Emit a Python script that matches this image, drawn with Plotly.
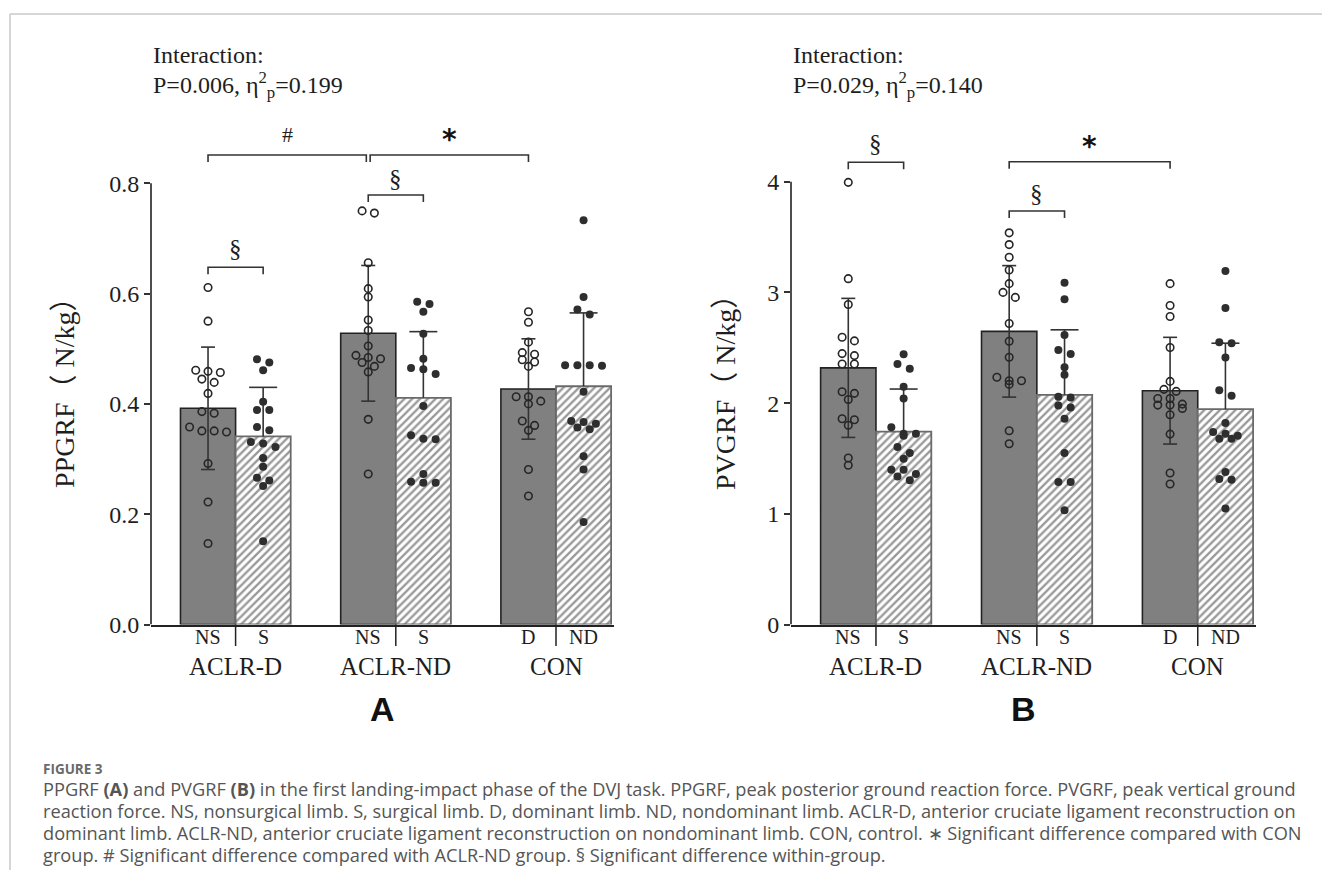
import numpy as np
import plotly.graph_objects as go

# ---------------- data ----------------
GROUPS = ["ACLR-D", "ACLR-ND", "CON"]
LIMB_LEFT = ["NS", "NS", "D"]      # dark bars (open circles)
LIMB_RIGHT = ["S", "S", "ND"]      # hatched bars (filled dots)

# Panel A: PPGRF (N/kg)
A_ACLRD_NS = [0.611, 0.550, 0.461, 0.459, 0.457, 0.445, 0.439, 0.419, 0.386, 0.383,
              0.358, 0.351, 0.351, 0.349, 0.292, 0.222, 0.147]
A_ACLRD_S = [0.481, 0.475, 0.461, 0.404, 0.389, 0.389, 0.358, 0.352, 0.331, 0.328,
             0.322, 0.302, 0.286, 0.266, 0.261, 0.251, 0.151]
A_ACLRND_NS = [0.750, 0.746, 0.656, 0.609, 0.594, 0.552, 0.533, 0.505, 0.488, 0.484,
               0.482, 0.475, 0.468, 0.458, 0.372, 0.273]
A_ACLRND_S = [0.585, 0.581, 0.567, 0.527, 0.482, 0.465, 0.463, 0.454, 0.396, 0.343,
              0.337, 0.336, 0.273, 0.259, 0.257, 0.257]
A_CON_D = [0.567, 0.548, 0.512, 0.493, 0.490, 0.480, 0.476, 0.468, 0.413, 0.413,
           0.405, 0.400, 0.369, 0.361, 0.352, 0.281, 0.233]
A_CON_ND = [0.733, 0.594, 0.571, 0.562, 0.470, 0.470, 0.470, 0.469, 0.422, 0.369,
            0.367, 0.364, 0.357, 0.354, 0.305, 0.281, 0.186]
A_MEAN_LEFT = [0.392, 0.528, 0.427]
A_SD_LEFT = [0.111, 0.123, 0.091]
A_MEAN_RIGHT = [0.341, 0.411, 0.432]
A_SD_RIGHT = [0.089, 0.120, 0.133]
A_TICKVALS = [0.0, 0.2, 0.4, 0.6, 0.8]
A_TICKTEXT = ["0.0", "0.2", "0.4", "0.6", "0.8"]

# Panel B: PVGRF (N/kg)
B_ACLRD_NS = [3.994, 3.124, 2.891, 2.595, 2.562, 2.447, 2.429, 2.353, 2.353, 2.103,
              2.088, 2.033, 1.859, 1.850, 1.800, 1.504, 1.438]
B_ACLRD_S = [2.441, 2.353, 2.311, 2.148, 2.042, 1.781, 1.723, 1.723, 1.705, 1.603,
             1.549, 1.498, 1.398, 1.398, 1.359, 1.338, 1.302]
B_ACLRND_NS = [3.538, 3.432, 3.317, 3.202, 3.079, 3.000, 2.955, 2.719, 2.559, 2.414,
               2.233, 2.202, 2.202, 2.169, 1.750, 1.633]
B_ACLRND_S = [3.088, 2.937, 2.616, 2.480, 2.444, 2.323, 2.257, 2.057, 2.051, 1.979,
              1.961, 1.859, 1.549, 1.287, 1.287, 1.032]
B_CON_D = [3.079, 2.882, 2.782, 2.502, 2.196, 2.124, 2.106, 2.042, 2.042, 1.991,
           1.982, 1.982, 1.952, 1.895, 1.720, 1.368, 1.269]
B_CON_ND = [3.193, 2.858, 2.550, 2.541, 2.411, 2.115, 2.067, 1.820, 1.738, 1.723,
            1.705, 1.678, 1.678, 1.377, 1.314, 1.308, 1.047]
B_MEAN_LEFT = [2.318, 2.648, 2.112]
B_SD_LEFT = [0.628, 0.594, 0.482]
B_MEAN_RIGHT = [1.742, 2.074, 1.945]
B_SD_RIGHT = [0.385, 0.588, 0.596]
B_TICKVALS = [0, 1, 2, 3, 4]
B_TICKTEXT = ["0", "1", "2", "3", "4"]

A_TITLE = "PPGRF（ N/kg）"
B_TITLE = "PVGRF（ N/kg）"
A_STATS = ["Interaction:", "P=0.006, η<sup>2</sup><sub>p</sub>=0.199"]
B_STATS = ["Interaction:", "P=0.029, η<sup>2</sup><sub>p</sub>=0.140"]

# significance brackets: (label, (group, side), (group, side))
A_BRACKETS = [("§", (0, "L"), (0, "R")), ("§", (1, "L"), (1, "R")),
              ("#", (0, "L"), (1, "L")), ("*", (1, "L"), (2, "L"))]
B_BRACKETS = [("§", (0, "L"), (0, "R")), ("*", (1, "L"), (2, "L")),
              ("§", (1, "L"), (1, "R"))]

CAPTION = [
    "PPGRF <b>(A)</b> and PVGRF <b>(B)</b> in the first landing-impact phase of the DVJ task. PPGRF, peak posterior ground reaction force. PVGRF, peak vertical ground",
    "reaction force. NS, nonsurgical limb. S, surgical limb. D, dominant limb. ND, nondominant limb. ACLR-D, anterior cruciate ligament reconstruction on",
    "dominant limb. ACLR-ND, anterior cruciate ligament reconstruction on nondominant limb. CON, control. ∗ Significant difference compared with CON",
    "group. # Significant difference compared with ACLR-ND group. § Significant difference within-group.",
]

# ---------------- layout geometry (pixels from the top-left corner) ----------------
W = 1322
HV = 870.0            # height the figure actually gets in the viewport
Y0PX = 624.5          # y = 0 baseline
TOPPX = 100.0         # top of plotting area
XR = [0.472, 3.362]
BARW = 0.344
SERIF = "Liberation Serif"
INK = "#1e1e1e"


def py(p):
    return 1 - p / HV


PANELS = [
    dict(xa="x", ya="y", xdom=(151, 614), top_tick=0.8, ppu=(Y0PX - 183.3) / 0.8,
         left=[A_ACLRD_NS, A_ACLRND_NS, A_CON_D], right=[A_ACLRD_S, A_ACLRND_S, A_CON_ND],
         mL=A_MEAN_LEFT, sL=A_SD_LEFT, mR=A_MEAN_RIGHT, sR=A_SD_RIGHT,
         tv=A_TICKVALS, tt=A_TICKTEXT, title=A_TITLE, title_x=65, stats=A_STATS,
         brackets=A_BRACKETS, letter="A",
         br_px={0: (267.3, 248.3), 1: (195.0, 178.3), 2: (155.0, 135.0), 3: (155.0, 140.0)}),
    dict(xa="x2", ya="y2", xdom=(791, 1256), top_tick=4, ppu=(Y0PX - 181.7) / 4,
         left=[B_ACLRD_NS, B_ACLRND_NS, B_CON_D], right=[B_ACLRD_S, B_ACLRND_S, B_CON_ND],
         mL=B_MEAN_LEFT, sL=B_SD_LEFT, mR=B_MEAN_RIGHT, sR=B_SD_RIGHT,
         tv=B_TICKVALS, tt=B_TICKTEXT, title=B_TITLE, title_x=726, stats=B_STATS,
         brackets=B_BRACKETS, letter="B",
         br_px={0: (162.3, 143.3), 1: (161.7, 147.0), 2: (211.0, 193.3)}),
]


def swarm(vals, ppu, step, thresh_px=6.5):
    vals = np.asarray(vals, float)
    order = np.argsort(-vals, kind="stable")
    rows = []
    for i in order:
        if rows and (vals[rows[-1][0]] - vals[i]) * ppu < thresh_px:
            rows[-1].append(i)
        else:
            rows.append([i])
    off = np.zeros(len(vals))
    for r in rows:
        k = len(r)
        for j, i in enumerate(r):
            off[i] = (j - (k - 1) / 2) * step
    return off


fig = go.Figure()
shapes = []
annotations = []
centers = np.array([1.0, 2.0, 3.0])
layout_axes = {}


def ann(**kw):
    kw.setdefault("showarrow", False)
    kw.setdefault("xanchor", "center")
    kw.setdefault("yanchor", "middle")
    annotations.append(kw)


for pi, P in enumerate(PANELS):
    xa, ya = P["xa"], P["ya"]
    ppu_y = P["ppu"]
    x_ppu = (P["xdom"][1] - P["xdom"][0]) / (XR[1] - XR[0])
    step = 12.3 / x_ppu
    capL = 7 / x_ppu
    capR = 14 / x_ppu
    xL = centers - BARW / 2
    xR = centers + BARW / 2
    ymax = (Y0PX - TOPPX) / ppu_y

    # bars
    fig.add_trace(go.Bar(x=xL, y=P["mL"], width=BARW, xaxis=xa, yaxis=ya,
                         marker=dict(color="#808080", line=dict(color="#222222", width=1.6)),
                         showlegend=False, hoverinfo="skip"))
    fig.add_trace(go.Bar(x=xR, y=P["mR"], width=BARW, xaxis=xa, yaxis=ya,
                         marker=dict(color="white", line=dict(color="#6a6a6a", width=1.8),
                                     pattern=dict(shape="/", fgcolor="#333333", bgcolor="white",
                                                  size=5.5, solidity=0.42)),
                         showlegend=False, hoverinfo="skip"))

    # error bars (dark: both directions; hatched: upward only)
    ex, ey = [], []
    for c, m, s in zip(xL, P["mL"], P["sL"]):
        ex += [c, c, None, c - capL, c + capL, None, c - capL, c + capL, None]
        ey += [m - s, m + s, None, m + s, m + s, None, m - s, m - s, None]
    for c, m, s in zip(xR, P["mR"], P["sR"]):
        ex += [c, c, None, c - capR, c + capR, None]
        ey += [m, m + s, None, m + s, m + s, None]
    fig.add_trace(go.Scatter(x=ex, y=ey, mode="lines", xaxis=xa, yaxis=ya,
                             line=dict(color="#333333", width=1.6),
                             showlegend=False, hoverinfo="skip"))

    # individual points
    for g in range(3):
        vl = P["left"][g]
        fig.add_trace(go.Scatter(x=xL[g] + swarm(vl, ppu_y, step), y=vl, mode="markers",
                                 xaxis=xa, yaxis=ya, showlegend=False, hoverinfo="skip",
                                 marker=dict(symbol="circle-open", size=7.5, color="#262626",
                                             line=dict(width=1.6, color="#262626"))))
        vr = P["right"][g]
        fig.add_trace(go.Scatter(x=xR[g] + swarm(vr, ppu_y, step), y=vr, mode="markers",
                                 xaxis=xa, yaxis=ya, showlegend=False, hoverinfo="skip",
                                 marker=dict(symbol="circle", size=8, color="#2e2e2e")))

    # axes
    xdom = [P["xdom"][0] / W, P["xdom"][1] / W]
    ydom = [py(Y0PX), py(TOPPX)]
    xkey = "xaxis" if xa == "x" else "xaxis2"
    ykey = "yaxis" if ya == "y" else "yaxis2"
    layout_axes[xkey] = dict(domain=xdom, range=XR, showline=True, linecolor="#222222",
                             linewidth=1.6, showgrid=False, zeroline=False, ticks="",
                             showticklabels=False, fixedrange=True, anchor=ya)
    layout_axes[ykey] = dict(domain=ydom, range=[0, ymax], showline=False, showgrid=False,
                             zeroline=False, ticks="outside", ticklen=6, tickwidth=1.5,
                             tickcolor="#333333", tickvals=P["tv"], ticktext=P["tt"],
                             tickfont=dict(family=SERIF, size=24, color=INK),
                             fixedrange=True, anchor=xa)
    # y axis line only up to the top tick
    shapes.append(dict(type="line", xref="paper", yref=ya, x0=xdom[0], x1=xdom[0],
                       y0=0, y1=P["top_tick"], line=dict(color="#222222", width=1.6)))

    # category labels and dividers
    for g in range(3):
        ann(x=xL[g], y=py(637), xref=xa, yref="paper", text=LIMB_LEFT[g],
            font=dict(family=SERIF, size=20, color=INK))
        ann(x=xR[g], y=py(637), xref=xa, yref="paper", text=LIMB_RIGHT[g],
            font=dict(family=SERIF, size=20, color=INK))
        ann(x=centers[g], y=py(666), xref=xa, yref="paper", text=GROUPS[g],
            font=dict(family=SERIF, size=25, color=INK))
        shapes.append(dict(type="line", xref=xa, yref="paper", x0=centers[g], x1=centers[g],
                           y0=py(Y0PX), y1=py(646), line=dict(color="#222222", width=1.5)))

    # panel letter
    ann(x=(xdom[0] + xdom[1]) / 2, y=py(709), xref="paper", yref="paper",
        text="<b>" + P["letter"] + "</b>",
        font=dict(family="Liberation Sans", size=34, color="#111111"))
    # y title
    ann(x=P["title_x"] / W, y=py(386), xref="paper", yref="paper", text=P["title"],
        textangle=-90, font=dict(family=SERIF + ", Noto Sans CJK SC", size=28, color=INK))
    # interaction text
    for txt, ypx in zip(P["stats"], [55, 85]):
        ann(x=xdom[0], y=py(ypx), xref="paper", yref="paper", text=txt, xanchor="left",
            font=dict(family=SERIF, size=24, color=INK))

    # brackets
    drop = 7 / ppu_y
    for bi, (lab, a, b) in enumerate(P["brackets"]):
        xa0 = (xL if a[1] == "L" else xR)[a[0]]
        xb0 = (xL if b[1] == "L" else xR)[b[0]]
        if lab == "#":
            xb0 -= 0.012
        if lab == "*" and pi == 0:
            xa0 += 0.012
        ypx_line, ypx_lab = P["br_px"][bi]
        yv = (Y0PX - ypx_line) / ppu_y
        yl = (Y0PX - ypx_lab) / ppu_y
        shapes.append(dict(type="path", xref=xa, yref=ya,
                           path=f"M {xa0},{yv - drop} L {xa0},{yv} L {xb0},{yv} L {xb0},{yv - drop}",
                           line=dict(color="#333333", width=1.6)))
        if lab == "*":
            font = dict(family="DejaVu Sans", size=28, color="#111111")
            txt = "<b>*</b>"
        elif lab == "#":
            font = dict(family=SERIF, size=22, color=INK)
            txt = "#"
        else:
            font = dict(family=SERIF, size=25, color=INK)
            txt = "§"
        ann(x=(xa0 + xb0) / 2, y=yl, xref=xa, yref=ya, text=txt, font=font)

# caption
ann(x=41 / W, y=py(768.5), xref="paper", yref="paper", xanchor="left", text="<b>FIGURE 3</b>",
    font=dict(family="Open Sans", size=13.5, color="#6a6a6a"))
for li, line in enumerate(CAPTION):
    ann(x=41 / W, y=py(788.5 + 22.0 * li), xref="paper", yref="paper", xanchor="left",
        text=line, font=dict(family="Open Sans", size=18.2, color="#555555"))

# figure frame (top and left edges)
shapes.append(dict(type="line", xref="paper", yref="paper", x0=10 / W, x1=1, y0=py(14), y1=py(14),
                   line=dict(color="#c9c9c9", width=1.5)))
shapes.append(dict(type="line", xref="paper", yref="paper", x0=10 / W, x1=10 / W, y0=py(14), y1=0,
                   line=dict(color="#c9c9c9", width=1.5)))

# the figure fills the browser viewport
fig.update_layout(autosize=True, margin=dict(l=0, r=0, t=0, b=0),
                  paper_bgcolor="white", plot_bgcolor="white", barmode="overlay",
                  shapes=shapes, annotations=annotations, showlegend=False, **layout_axes)

POST = ("document.documentElement.style.margin='0';document.body.style.margin='0';"
        "document.body.style.overflow='hidden';document.documentElement.style.overflow='hidden';"
        "var d=document.getElementsByClassName('plotly-graph-div')[0];"
        "d.style.position='absolute';d.style.left='0px';d.style.top='0px';")
fig.write_html("out.html", config={"displayModeBar": False, "responsive": True},
               default_width="100vw", default_height="100vh", post_script=POST)
